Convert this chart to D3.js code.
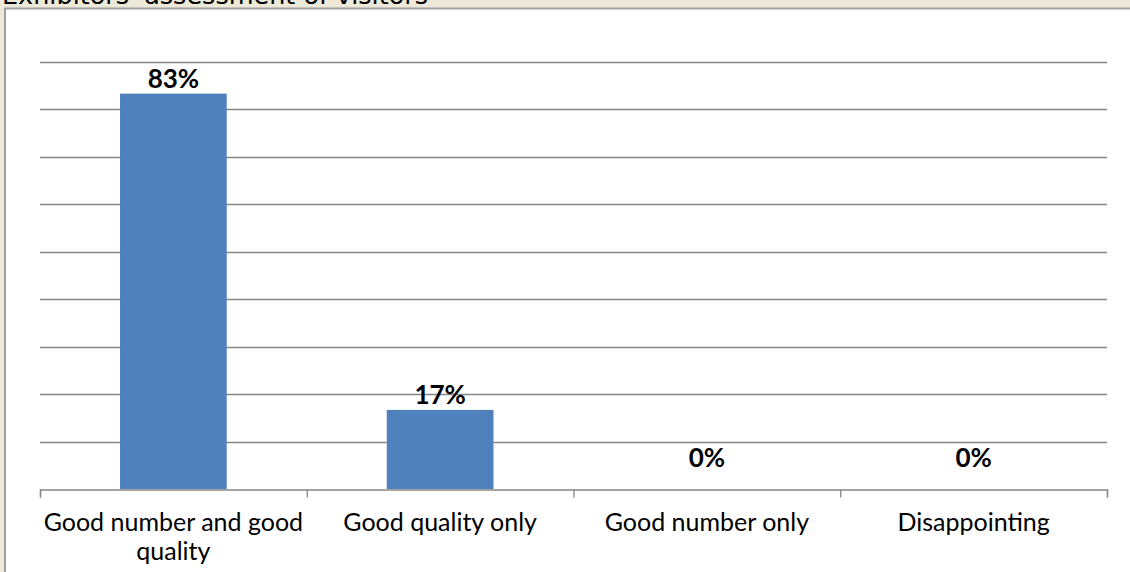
<!DOCTYPE html>
<html>
<head>
<meta charset="utf-8">
<title>Exhibitors' assessment of visitors</title>
<script src="https://cdn.jsdelivr.net/npm/d3@7"></script>
<style>
  html, body { margin: 0; padding: 0; background: #ECE9D8; overflow: hidden; }
  svg { display: block; }
</style>
</head>
<body>
<script>
const categories = ["Good number and good quality", "Good quality only", "Good number only", "Disappointing"];
const values = [83.33, 16.67, 0, 0];
const valueLabels = ["83%", "17%", "0%", "0%"];
const yTicks = [0, 10, 20, 30, 40, 50, 60, 70, 80, 90];

const w = 1130, h = 572;
const plotLeft = 40, plotRight = 1107, plotTop = 62, plotBottom = 489;

const svg = d3.select("body").append("svg")
    .attr("width", w)
    .attr("height", h);

// title, mostly clipped at the top edge like the screenshot
svg.append("text")
    .attr("x", 2)
    .attr("y", 4)
    .attr("font-family", "DejaVu Sans, Verdana, sans-serif")
    .attr("font-size", 25.5)
    .attr("fill", "#000")
    .text("Exhibitors' assessment of visitors");

// chart panel
svg.append("rect")
    .attr("x", 5)
    .attr("y", 8.5)
    .attr("width", w + 10)
    .attr("height", h + 10)
    .attr("fill", "#fff")
    .attr("stroke", "#A0A0A0")
    .attr("stroke-width", 2);

const xScale = d3.scaleBand()
    .domain(categories)
    .range([plotLeft, plotRight])
    .paddingInner(0.6)
    .paddingOuter(0.3);

const yScale = d3.scaleLinear()
    .domain([0, 90])
    .range([plotBottom, plotTop]);

// gridlines
svg.append("g")
    .selectAll("line")
    .data(yTicks.filter(d => d > 0))
    .enter()
    .append("line")
    .attr("x1", plotLeft)
    .attr("x2", plotRight)
    .attr("y1", d => Math.round(yScale(d)) + 0.5)
    .attr("y2", d => Math.round(yScale(d)) + 0.5)
    .attr("stroke", "#868686")
    .attr("stroke-width", 1.3);

// bars
svg.selectAll("rect.bar")
    .data(values)
    .enter()
    .append("rect")
    .attr("class", "bar")
    .attr("x", (d, i) => xScale(categories[i]))
    .attr("y", d => yScale(d))
    .attr("width", xScale.bandwidth())
    .attr("height", d => plotBottom - yScale(d))
    .attr("fill", "#4F81BD");

// x axis with ticks between categories
const step = (plotRight - plotLeft) / categories.length;
const xAxisScale = d3.scaleLinear().domain([0, categories.length]).range([plotLeft, plotRight]);
const xAxis = d3.axisBottom(xAxisScale)
    .ticks(categories.length)
    .tickSize(8)
    .tickSizeOuter(8)
    .tickFormat("");

svg.append("g")
    .attr("transform", "translate(0," + (plotBottom + 0.5) + ")")
    .call(xAxis)
    .call(g => g.selectAll("path, line").attr("stroke", "#868686").attr("stroke-width", 1.3));

// value labels
svg.selectAll("text.val")
    .data(values)
    .enter()
    .append("text")
    .attr("class", "val")
    .attr("x", (d, i) => xScale(categories[i]) + xScale.bandwidth() / 2)
    .attr("y", d => Math.min(yScale(d) - 6, plotBottom - 22))
    .attr("text-anchor", "middle")
    .attr("font-family", "Lato, sans-serif")
    .attr("font-weight", "bold")
    .attr("font-size", 26)
    .attr("fill", "#000")
    .text((d, i) => valueLabels[i]);

// category labels, wrapped to band width
categories.forEach((c, i) => {
    const cx = plotLeft + step * (i + 0.5);
    const t = svg.append("text")
        .attr("text-anchor", "middle")
        .attr("font-family", "Lato, sans-serif")
        .attr("font-size", 25)
        .attr("fill", "#000");
    const words = c.split(" ");
    let line = [];
    let lines = [];
    const probe = t.append("tspan");
    words.forEach(word => {
        line.push(word);
        probe.text(line.join(" "));
        if (probe.node().getComputedTextLength() > step && line.length > 1) {
            line.pop();
            lines.push(line.join(" "));
            line = [word];
        }
    });
    lines.push(line.join(" "));
    probe.remove();
    lines.forEach((l, j) => {
        t.append("tspan")
            .attr("x", cx)
            .attr("y", 531 + j * 29)
            .text(l);
    });
});
</script>
</body>
</html>
